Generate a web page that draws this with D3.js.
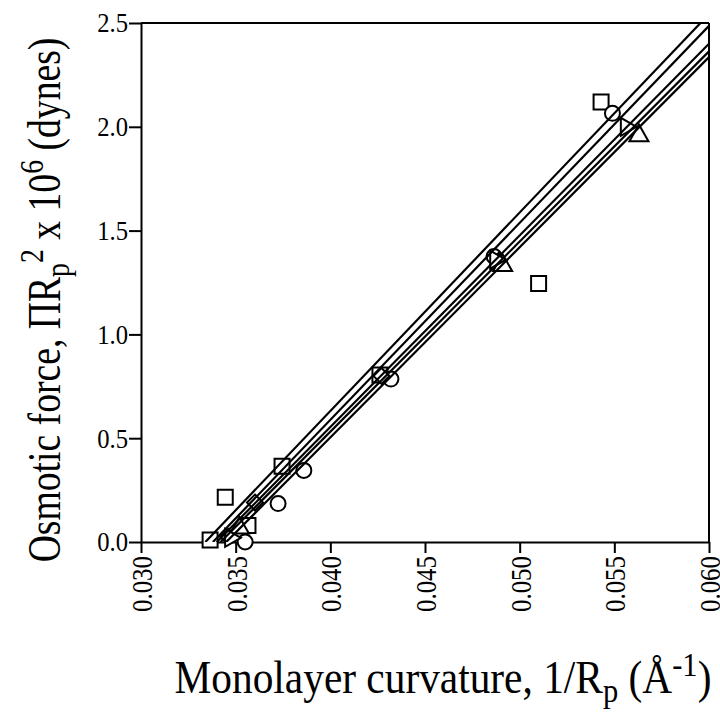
<!DOCTYPE html>
<html>
<head>
<meta charset="utf-8">
<script src="https://cdn.jsdelivr.net/npm/d3@7"></script>
<style>
  body { margin: 0; background: #fff; }
  svg { display: block; }
  svg text { font-family: "Liberation Serif", "Times New Roman", serif; fill: #000; }
</style>
</head>
<body>
<div id="chart"></div>
<script>
const graphImageSizeX = 720;
const graphImageSizeY = 712;
const margin = {top: 23, right: 11, bottom: 170, left: 141};
const width = graphImageSizeX - margin.left - margin.right;
const height = graphImageSizeY - margin.top - margin.bottom;

// tick labels
const xTicks = [0.030, 0.035, 0.040, 0.045, 0.050, 0.055, 0.060];
const yTicks = [0.0, 0.5, 1.0, 1.5, 2.0, 2.5];

// series
const squareX = [0.03365, 0.03445, 0.03565, 0.03745, 0.04262, 0.0510, 0.0543];
const squareY = [0.01, 0.215, 0.08, 0.365, 0.805, 1.245, 2.12];
const circleX = [0.0355, 0.03724, 0.0386, 0.0432, 0.04865, 0.0549];
const circleY = [0.0, 0.185, 0.345, 0.785, 1.375, 2.065];
const diamondX = [0.0346, 0.03602, 0.0427, 0.0489];
const diamondY = [0.025, 0.19, 0.80, 1.355];
const triUpX = [0.0352, 0.0491, 0.0563];
const triUpY = [0.075, 1.34, 1.965];
const triRightX = [0.0348, 0.0488, 0.0557];
const triRightY = [0.02, 1.36, 2.0];

// fitted lines: x where force is zero, and slope
const fitX0 = [0.0334, 0.0338, 0.0340, 0.0342, 0.0345];
const fitSlope = [95.6, 94.9, 92.3, 91.6, 91.6];

const series = [
  {shape: "square", xs: squareX, ys: squareY},
  {shape: "circle", xs: circleX, ys: circleY},
  {shape: "diamond", xs: diamondX, ys: diamondY},
  {shape: "triUp", xs: triUpX, ys: triUpY},
  {shape: "triRight", xs: triRightX, ys: triRightY}
];

const x = d3.scaleLinear().domain([0.030, 0.060]).range([0, width]);
const y = d3.scaleLinear().domain([0, 2.5]).range([height, 0]);

const svg = d3.select("#chart").append("svg")
  .attr("width", graphImageSizeX)
  .attr("height", graphImageSizeY);

const g = svg.append("g")
  .attr("transform", "translate(" + margin.left + "," + margin.top + ")");

// axes
const tickScale = 0.83;
const xAxis = g.append("g")
  .attr("transform", "translate(0," + height + ")")
  .call(d3.axisBottom(x).tickValues(xTicks).tickSize(11).tickSizeOuter(0).tickFormat(d3.format(".3f")));
xAxis.selectAll("text")
  .attr("transform", "rotate(-90) scale(" + tickScale + ",1)")
  .attr("x", -14 / tickScale).attr("y", 0).attr("dy", "0.35em")
  .style("text-anchor", "end")
  .style("font-size", "30px");

const yAxis = g.append("g")
  .call(d3.axisLeft(y).tickValues(yTicks).tickSize(12).tickSizeOuter(0).tickFormat(d3.format(".1f")));
yAxis.selectAll("text")
  .attr("x", null)
  .attr("transform", "translate(-13,0) scale(0.88,1)")
  .style("font-size", "28px");

[xAxis, yAxis].forEach(function(a) {
  a.attr("font-family", null).attr("font-size", null);
  a.select(".domain").attr("stroke-width", 2);
  a.selectAll(".tick line").attr("stroke-width", 2);
});

// frame top and right
g.append("line").attr("x1", 0).attr("x2", width).attr("y1", 0).attr("y2", 0)
  .attr("stroke", "#000").attr("stroke-width", 2);
g.append("line").attr("x1", width).attr("x2", width).attr("y1", 0).attr("y2", height)
  .attr("stroke", "#000").attr("stroke-width", 2);

// markers
const sym = {
  square: function(s) { return "M" + (-s) + "," + (-s) + "h" + 2 * s + "v" + 2 * s + "h" + (-2 * s) + "Z"; },
  circle: function(s) { return d3.symbol(d3.symbolCircle, Math.PI * s * s)(); },
  diamond: function(s) { return "M0," + (-s) + "L" + s + ",0L0," + s + "L" + (-s) + ",0Z"; },
  triUp: function(s) { return "M0," + (-s) + "L" + s + "," + (s * 0.75) + "L" + (-s) + "," + (s * 0.75) + "Z"; },
  triRight: function(s) { return "M" + s + ",0L" + (-s * 0.75) + "," + (-s) + "L" + (-s * 0.75) + "," + s + "Z"; }
};
const symSize = {square: 7.5, circle: 7.5, diamond: 8, triUp: 9.5, triRight: 9};

series.forEach(function(s) {
  g.append("g").selectAll("path")
    .data(d3.range(s.xs.length))
    .join("path")
    .attr("d", sym[s.shape](symSize[s.shape]))
    .attr("transform", function(i) { return "translate(" + x(s.xs[i]) + "," + y(s.ys[i]) + ")"; })
    .attr("fill", "#fff")
    .attr("stroke", "#000")
    .attr("stroke-width", 2);
});

// fit lines, clipped to the frame
const clip = svg.append("clipPath").attr("id", "plotclip");
clip.append("rect").attr("x", 0).attr("y", 0).attr("width", width).attr("height", height);

g.append("g").attr("clip-path", "url(#plotclip)")
  .selectAll("line")
  .data(d3.range(fitX0.length))
  .join("line")
  .attr("x1", function(i) { return x(fitX0[i]); })
  .attr("y1", y(0))
  .attr("x2", x(0.060))
  .attr("y2", function(i) { return y(fitSlope[i] * (0.060 - fitX0[i])); })
  .attr("stroke", "#000")
  .attr("stroke-width", 2.2);

// axis titles, squeezed along their length like the reference face
function squeeze(sel, targetLen) {
  const w = sel.node().getComputedTextLength();
  return targetLen / w;
}

const xt = svg.append("text")
  .attr("text-anchor", "middle")
  .style("font-size", "46px");
xt.append("tspan").text("Monolayer curvature, 1/R");
xt.append("tspan").attr("dy", 9).style("font-size", "34px").text("p");
xt.append("tspan").attr("dy", -9).text(" (Å");
xt.append("tspan").attr("dy", -17).style("font-size", "34px").text("-1");
xt.append("tspan").attr("dy", 17).text(")");
const kx = squeeze(xt, 537);
xt.attr("transform", "translate(443,693) scale(" + kx + ",1)");

const yt = svg.append("text")
  .attr("text-anchor", "middle")
  .style("font-size", "46px");
yt.append("tspan").text("Osmotic force, ΠR");
yt.append("tspan").attr("dy", 9).style("font-size", "34px").text("p");
yt.append("tspan").attr("dy", -26).style("font-size", "34px").text("2");
yt.append("tspan").attr("dy", 17).text(" x 10");
yt.append("tspan").attr("dy", -17).style("font-size", "34px").text("6");
yt.append("tspan").attr("dy", 17).text(" (dynes)");
const ky = squeeze(yt, 525);
yt.attr("transform", "translate(60,300) rotate(-90) scale(" + ky + ",1)");
</script>
</body>
</html>
